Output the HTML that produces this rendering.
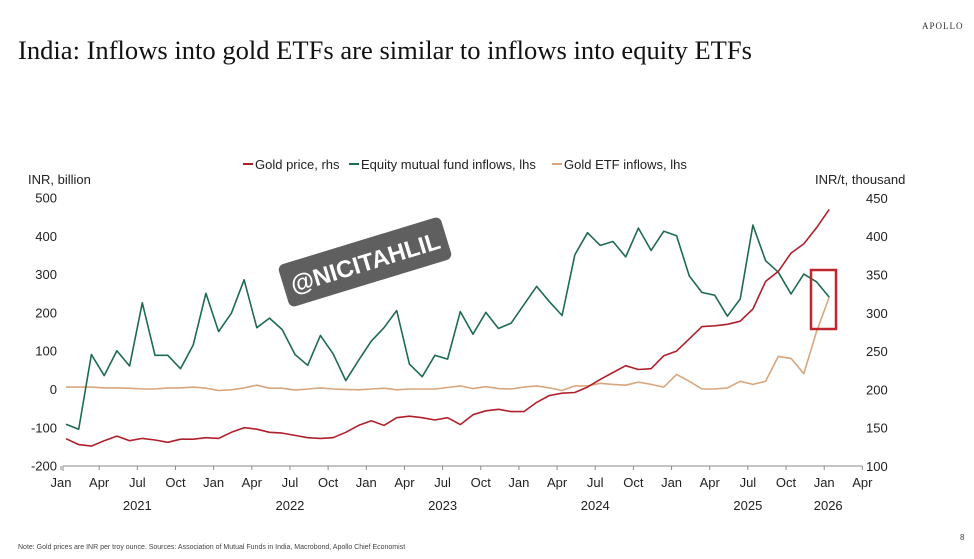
<!DOCTYPE html>
<html><head><meta charset="utf-8"><style>
html,body{margin:0;padding:0;background:#fff;width:974px;height:559px;overflow:hidden}
svg{display:block}
</style></head><body>
<svg id="s" width="974" height="559" xmlns="http://www.w3.org/2000/svg" font-family="Liberation Sans, sans-serif">
<text x="922" y="29" font-family="Liberation Serif, serif" font-size="9" fill="#333" letter-spacing="1">APOLLO</text>
<text x="18" y="59" font-family="Liberation Serif, serif" font-size="26" fill="#111" textLength="734" lengthAdjust="spacingAndGlyphs">India: Inflows into gold ETFs are similar to inflows into equity ETFs</text>
<g font-size="13" fill="#222">
<line x1="243" y1="164" x2="253" y2="164" stroke="#b0202c" stroke-width="2"/>
<text x="255" y="169">Gold price, rhs</text>
<line x1="349" y1="164" x2="359" y2="164" stroke="#1f6b4f" stroke-width="2"/>
<text x="361" y="169">Equity mutual fund inflows, lhs</text>
<line x1="552" y1="164" x2="562" y2="164" stroke="#d9a67c" stroke-width="2"/>
<text x="564" y="169">Gold ETF inflows, lhs</text>
<text x="28" y="184">INR, billion</text>
<text x="815" y="184">INR/t, thousand</text>
</g>
<g id="ax" font-size="13" fill="#222"></g>
<g id="lines" fill="none" stroke-linejoin="round"></g>
<rect x="811" y="270" width="25" height="59" fill="none" stroke="#c0262d" stroke-width="2.5"/>
<g transform="translate(365,262) rotate(-17)">
<rect x="-85" y="-22" width="170" height="44" rx="6" fill="#5f5f5f"/>
<text x="0" y="9" text-anchor="middle" font-size="24" font-weight="bold" fill="#fff">@NICITAHLIL</text>
</g>
<text x="18" y="549" font-size="7" fill="#444">Note: Gold prices are INR per troy ounce. Sources: Association of Mutual Funds in India, Macrobond, Apollo Chief Economist</text>
<text x="960" y="540" font-size="8" fill="#444">8</text>
</svg>
<script>
var ax=document.getElementById('ax'),L=document.getElementById('lines'),h='';
function yl(v){return 389-v*0.383} function yr(p){return 466-(p-100)*0.766}
function xm(m){return 61+m*12.72}
h+='<line x1="63" y1="466" x2="862" y2="466" stroke="#888" stroke-width="1"/>';
h+='<line x1="63" y1="466" x2="63" y2="471" stroke="#888"/>';
for(var v=-200;v<=500;v+=100)h+='<text x="57" y="'+(yl(v)+5)+'" text-anchor="end">'+v+'</text>';
for(var p=100;p<=450;p+=50)h+='<text x="866" y="'+(yr(p)+5)+'">'+p+'</text>';
var mn=['Jan','Apr','Jul','Oct'];
for(var i=0;i<=21;i++){var x=xm(i*3);h+='<line x1="'+x+'" y1="466" x2="'+x+'" y2="470" stroke="#888"/>';h+='<text x="'+x+'" y="487" text-anchor="middle">'+mn[i%4]+'</text>';}
for(var y=0;y<6;y++)h+='<text x="'+(y==5?xm(60)+4:xm(y*12+6))+'" y="510" text-anchor="middle">'+(2021+y)+'</text>';
ax.innerHTML=h;
var eq=[-92,-105,90,35,100,60,225,88,88,53,115,250,150,198,285,160,185,155,90,62,140,92,22,75,125,160,205,65,32,88,78,202,143,200,158,172,220,268,228,192,350,408,375,385,345,420,362,412,400,295,252,245,190,235,428,335,305,248,300,280,240];
var etf=[5,5,5,3,3,2,0,0,3,3,5,2,-4,-2,3,10,2,2,-3,0,3,0,-1,-2,0,2,-2,0,0,0,4,8,1,6,1,0,5,8,3,-4,8,8,15,12,10,18,12,5,38,20,0,0,3,20,12,20,85,80,40,150,240];
var gp=[135.6,128,126,133,139,133,136,134,131,135,135,137,136,144,150,148,144,143,140,137,136,137,144,153,159,153,163,165,163,160,163,154,167,172,174,171,171,183,192,195,196,203,213,222,231,226,227,244,250,266,282,283,285,289,305,341,354,378,390,411,435];
function pl(a,f,c){var s='';a.forEach(function(v,i){s+=(xm(i)+5).toFixed(1)+','+f(v).toFixed(1)+' '});return '<polyline points="'+s+'" stroke="'+c+'" stroke-width="1.6"/>'}
L.innerHTML=pl(etf,yl,'#d9a67c')+pl(eq,yl,'#1f6b4f')+pl(gp,yr,'#b0202c');
</script>
</body></html>
